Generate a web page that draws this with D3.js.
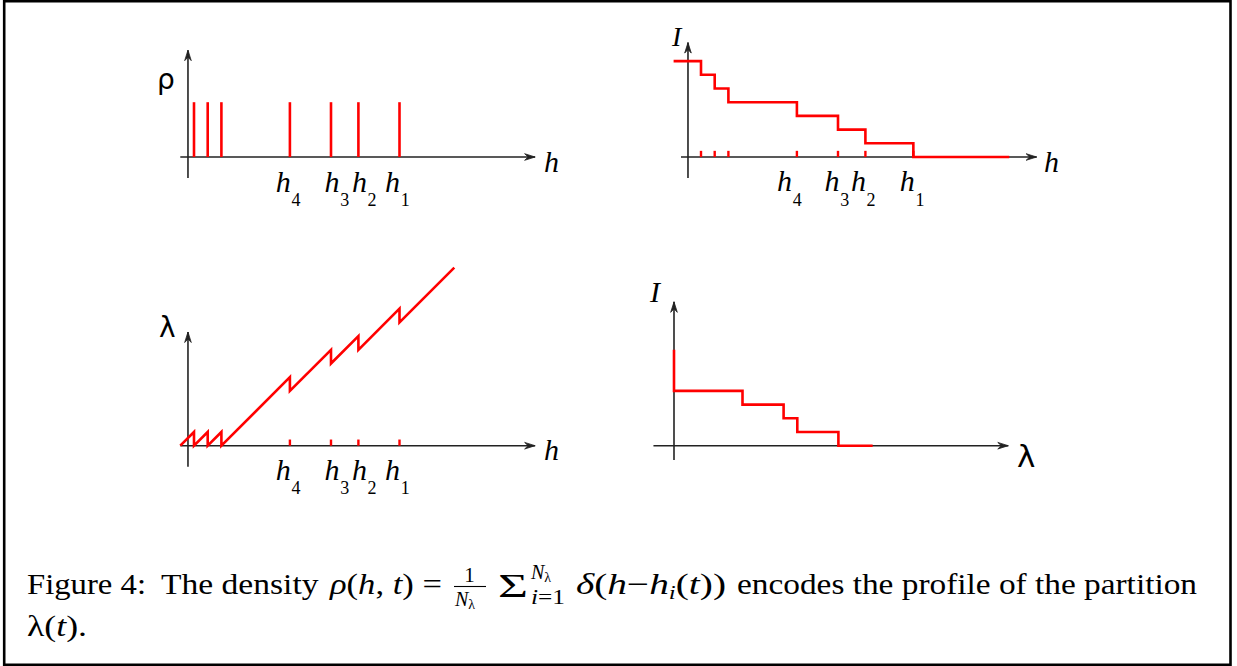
<!DOCTYPE html>
<html>
<head>
<meta charset="utf-8">
<script src="https://cdn.jsdelivr.net/npm/d3@7"></script>
<style>
  html, body { margin: 0; padding: 0; background: #fff; }
  svg { display: block; }
</style>
</head>
<body>
<svg id="chart" width="1237" height="666"></svg>
<script>
// ---------------- DATA ----------------
// particle heights h_i (top-left density panel and bottom-left profile ticks)
const particleH = [0, 1, 2, 7, 10, 12, 15];
const rhoSpike = 4;                              // height of each delta spike
// I(h) staircase (top-right)
const stairHx = [-2, 0, 1, 2, 7, 10, 12, 15.5, 22.5];
const stairHlevel = [7, 6, 5, 4, 3, 2, 1, 0, 0];
const stairHticks = [0, 1, 2, 7, 10, 12, 15.5];
// partition profile lambda(h) (bottom-left)
const profileH = [-1, 0, 0, 1, 1, 2, 2, 7, 7, 10, 10, 12, 12, 15, 15, 19];
const profileV = [0, 1, 0, 1, 0, 1, 0, 5, 4, 7, 6, 8, 7, 10, 9, 13];
const profileTicks = [7, 10, 12, 15];
// I(lambda) staircase (bottom-right)
const stairLx = [0, 0, 5, 8, 9, 12, 14.5];
const stairLlevel = [7, 4, 3, 2, 1, 0, 0];
// labels
const tickLabels = ["4", "3", "2", "1"];
const labelledH = [7, 10, 12, 15];
const labelledH2 = [7, 10, 12, 15.5];

// ---------------- LAYOUT ----------------
const svg = d3.select("#chart");
const U = 13.7;
const RED = "#ff0000";
const AX = "#222";
const serif = "'Liberation Serif', 'Times New Roman', serif";
const sans = "'DejaVu Sans', sans-serif";

svg.append("rect").attr("x", 0).attr("y", 0).attr("width", 1237).attr("height", 666).attr("fill", "#fff");
svg.append("rect").attr("x", 4.2).attr("y", 1.2).attr("width", 1226.3).attr("height", 663.6)
  .attr("fill", "none").attr("stroke", "#000").attr("stroke-width", 2.6);

function makePanel(cfg) {
  const x = d3.scaleLinear().domain([0, 1]).range([cfg.ox, cfg.ox + U]);
  const y = d3.scaleLinear().domain([0, 1]).range([cfg.oy, cfg.oy - U]);
  const g = svg.append("g");
  arrow(g, x(cfg.xFrom), y(0), x(cfg.xTo), y(0));
  arrow(g, x(cfg.yAxisU), y(cfg.yFrom), x(cfg.yAxisU), y(cfg.yTo));
  return { x, y, g };
}

function arrow(g, x1, y1, x2, y2) {
  g.append("line").attr("x1", x1).attr("y1", y1).attr("x2", x2).attr("y2", y2)
    .attr("stroke", AX).attr("stroke-width", 1.6);
  const dx = x2 - x1, dy = y2 - y1, L = Math.hypot(dx, dy);
  const ux = dx / L, uy = dy / L, px = -uy, py = ux;
  const len = 10.5, w = 3.3, back = 7;
  const p = d3.path();
  p.moveTo(x2 - ux * len + px * w, y2 - uy * len + py * w);
  p.lineTo(x2, y2);
  p.lineTo(x2 - ux * len - px * w, y2 - uy * len - py * w);
  p.lineTo(x2 - ux * back, y2 - uy * back);
  p.closePath();
  g.append("path").attr("d", p.toString()).attr("fill", AX).attr("stroke", AX)
    .attr("stroke-width", 0.8).attr("stroke-linejoin", "miter");
}

function hLabels(P, positions, nudges, baseline) {
  positions.forEach((h, i) => {
    const cx = P.x(h) + nudges[i];
    P.g.append("text").attr("x", cx + 7.5).attr("y", baseline)
      .attr("text-anchor", "end").attr("font-family", serif).attr("font-style", "italic")
      .attr("font-size", 30).attr("fill", "#000").text("h");
    P.g.append("text").attr("x", cx + 8.2).attr("y", baseline + 14.8)
      .attr("font-family", serif).attr("font-size", 18).attr("fill", "#000").text(tickLabels[i]);
  });
}

function axisText(P, txt, px, py, size, family, italic) {
  P.g.append("text").attr("x", px).attr("y", py).attr("font-family", family)
    .attr("font-style", italic ? "italic" : "normal").attr("font-size", size)
    .attr("fill", "#000").text(txt);
}

// ---- Panel 1: density rho(h)
const P1 = makePanel({ ox: 194, oy: 157, yAxisU: -0.44, xFrom: -1.0, xTo: 24.9, yFrom: -1.53, yTo: 7.8 });
P1.g.selectAll("line.spike").data(particleH).enter().append("line")
  .attr("x1", d => P1.x(d)).attr("x2", d => P1.x(d))
  .attr("y1", P1.y(0)).attr("y2", P1.y(rhoSpike))
  .attr("stroke", RED).attr("stroke-width", 2.6);
hLabels(P1, labelledH, [-6.6, 1, 1, -7], 191.5);
axisText(P1, "ρ", 157, 88.5, 28, sans, false);
axisText(P1, "h", 544, 171.5, 30, serif, true);

// ---- Panel 2: I(h)
const P2 = makePanel({ ox: 701, oy: 157, yAxisU: -0.95, xFrom: -1.46, xTo: 24.5, yFrom: -1.53, yTo: 8.35 });
P2.g.selectAll("line.tick").data(stairHticks).enter().append("line")
  .attr("x1", d => P2.x(d)).attr("x2", d => P2.x(d))
  .attr("y1", P2.y(0)).attr("y2", P2.y(0.45))
  .attr("stroke", RED).attr("stroke-width", 2.4);
const stepLine = d3.line().curve(d3.curveStepAfter);
P2.g.append("path")
  .attr("d", stepLine(stairHx.map((h, i) => [P2.x(h), P2.y(stairHlevel[i])])))
  .attr("fill", "none").attr("stroke", RED).attr("stroke-width", 2.6);
hLabels(P2, labelledH2, [-12.3, -6, -7, -6], 190.8);
axisText(P2, "I", 672, 45.5, 28, serif, true);
axisText(P2, "h", 1044, 171.5, 30, serif, true);

// ---- Panel 3: profile lambda(h)
const P3 = makePanel({ ox: 194, oy: 445.7, yAxisU: -0.44, xFrom: -1.0, xTo: 24.9, yFrom: -1.53, yTo: 8.3 });
P3.g.selectAll("line.tick").data(profileTicks).enter().append("line")
  .attr("x1", d => P3.x(d)).attr("x2", d => P3.x(d))
  .attr("y1", P3.y(0)).attr("y2", P3.y(0.45))
  .attr("stroke", RED).attr("stroke-width", 2.4);
P3.g.append("path")
  .attr("d", d3.line()(profileH.map((h, i) => [P3.x(h), P3.y(profileV[i])])))
  .attr("fill", "none").attr("stroke", RED).attr("stroke-width", 2.6).attr("stroke-linejoin", "miter");
hLabels(P3, labelledH, [-6.6, 1, 1, -7], 479.5);
axisText(P3, "λ", 159, 336.5, 28, sans, false);
axisText(P3, "h", 544, 460, 30, serif, true);

// ---- Panel 4: I(lambda)
const P4 = makePanel({ ox: 674, oy: 445.7, yAxisU: 0, xFrom: -1.5, xTo: 24.4, yFrom: -1.05, yTo: 10.5 });
P4.g.append("path")
  .attr("d", stepLine(stairLx.map((l, i) => [P4.x(l), P4.y(stairLlevel[i])])))
  .attr("fill", "none").attr("stroke", RED).attr("stroke-width", 2.6);
axisText(P4, "I", 650, 301.5, 30, serif, true);
axisText(P4, "λ", 1017, 466.5, 31, sans, false);

// ---------------- CAPTION ----------------
const cap = svg.append("g").attr("font-family", serif).attr("fill", "#000");
const b1 = 594, b2 = 636;
function seg(x, y, len, size) {
  const t = cap.append("text").attr("x", x).attr("y", y).attr("font-size", size);
  if (len) t.attr("textLength", len).attr("lengthAdjust", "spacingAndGlyphs");
  return t;
}
function ts(t, s, italic, extra) {
  const sp = t.append("tspan").text(s);
  if (italic) sp.attr("font-style", "italic");
  if (extra) Object.entries(extra).forEach(([k, v]) => sp.attr(k, v));
  return sp;
}
seg(27, b1, 119, 30).text("Figure 4:");
seg(161, b1, 157.5, 30).text("The density");
const m1 = seg(330, b1, 112, 30);
ts(m1, "ρ", true); ts(m1, "("); ts(m1, "h", true); ts(m1, ", "); ts(m1, "t", true); ts(m1, ") =");
// fraction 1 / N_lambda
seg(469.5, b1 - 12.5, null, 21).attr("text-anchor", "middle").text("1");
cap.append("line").attr("x1", 454).attr("x2", 486).attr("y1", b1 - 7.5).attr("y2", b1 - 7.5)
  .attr("stroke", "#000").attr("stroke-width", 1.1);
const den = seg(455, b1 + 12, null, 20);
ts(den, "N", true); ts(den, "λ", false, { "font-size": 14, dy: 3 });
// sum with limits
seg(498, b1 + 3, 30, 34).text("Σ");
const sup = seg(531, b1 - 15, null, 20);
ts(sup, "N", true); ts(sup, "λ", false, { "font-size": 14, dy: 3 });
const sub = seg(531, b1 + 10, 34, 20);
ts(sub, "i", true); ts(sub, "=1");
const m2 = seg(576, b1, 150, 30);
ts(m2, "δ", true); ts(m2, "("); ts(m2, "h", true); ts(m2, "−"); ts(m2, "h", true);
ts(m2, "i", true, { "font-size": 19, dy: 5 }); ts(m2, "(", false, { dy: -5 }); ts(m2, "t", true); ts(m2, "))");
seg(737, b1, 460, 30).text("encodes the profile of the partition");
const l2 = seg(27, b2, 60, 30);
ts(l2, "λ"); ts(l2, "("); ts(l2, "t", true); ts(l2, ").");
</script>
</body>
</html>
